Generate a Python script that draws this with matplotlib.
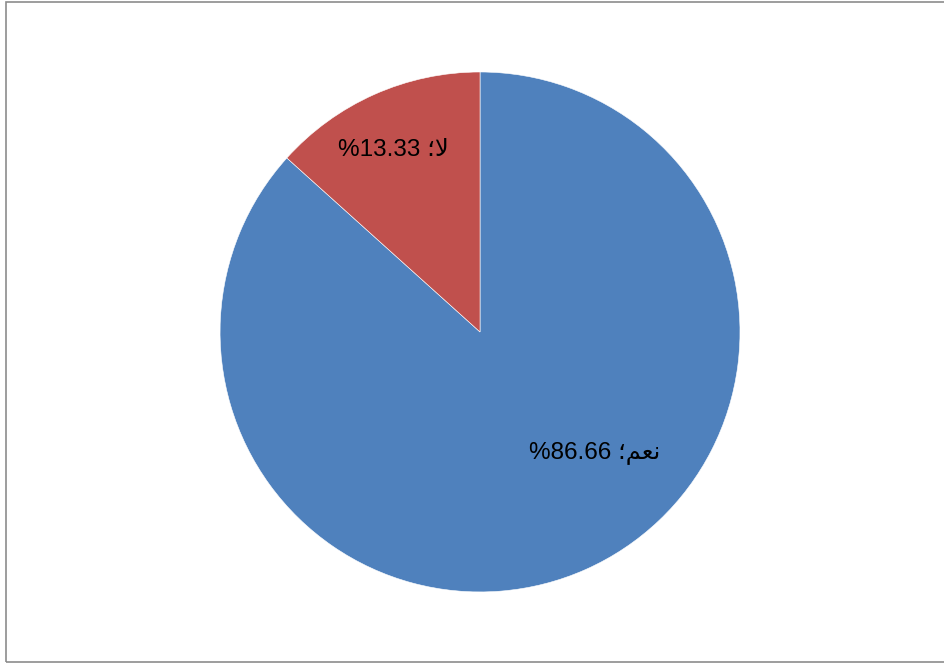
import matplotlib
matplotlib.use("Agg")
import matplotlib.pyplot as plt
from matplotlib.patches import Rectangle

# answers: yes / no
values = [86.66, 13.33]
colors = ["#4F81BD", "#C0504D"]
# Arabic words written in visual (left-to-right) order with presentation forms
words = ["\u061B\uFEE2\uFECC\uFEE7", "\u061B\uFEFB"]
label_pos = [(0.44, -0.465), (-0.335, 0.70)]

plt.rcParams["font.family"] = ["Liberation Sans", "DejaVu Sans"]

fig = plt.figure(figsize=(9.44, 6.65), dpi=100)
ax = fig.add_axes([0.2331, 0.1098, 0.5508, 0.782])

ax.pie(values, colors=colors, startangle=90, counterclock=False,
       radius=1, wedgeprops=dict(edgecolor="white", linewidth=0.4))
ax.set_xlim(-1, 1)
ax.set_ylim(-1, 1)
ax.set_aspect("equal")
ax.axis("off")

for v, w, (x, y) in zip(values, words, label_pos):
    ax.text(x, y, f"%{v:.2f} {w}", ha="center", va="center",
            fontsize=17.5, color="black")

# chart area frame
fig.patches.append(Rectangle((6 / 944, 3 / 665), 1.0, 660 / 665,
                             transform=fig.transFigure, fill=False,
                             edgecolor="#8c8c8c", linewidth=1.2))

fig.savefig("out.png", dpi=100)
